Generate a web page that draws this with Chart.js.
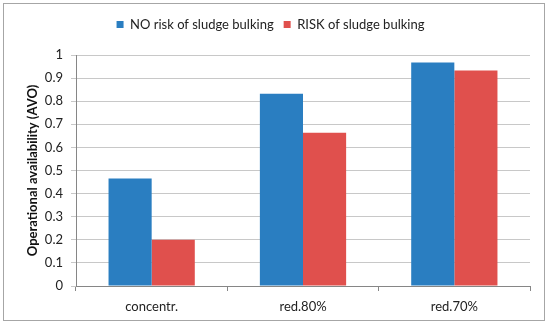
<!DOCTYPE html>
<html>
<head>
<meta charset="utf-8">
<script src="https://cdn.jsdelivr.net/npm/chart.js@4"></script>
<style>
    html, body { margin: 0; padding: 0; background: #fff; }
    #wrap { width: 550px; height: 326px; position: relative; }
</style>
</head>
<body>
<div id="wrap"><canvas id="chart"></canvas></div>
<script>
const categories = ['concentr.', 'red.80%', 'red.70%'];
const noRisk = [0.465, 0.832, 0.968];
const risk = [0.2, 0.663, 0.933];
const seriesNames = ['NO risk of sludge bulking', 'RISK of sludge bulking'];
const yTicks = [0, 0.1, 0.2, 0.3, 0.4, 0.5, 0.6, 0.7, 0.8, 0.9, 1];

const FONT = 'Lato, "Open Sans", sans-serif';

// outer frame like the spreadsheet chart border
const frame = {
    id: 'frame',
    afterInit(chart) {
        // extra room between legend and plot
        const lg = chart.legend;
        const fit = lg.fit;
        lg.fit = function () { fit.call(this); this.height += 14; };
    },
    beforeDraw(chart) {
        const ctx = chart.ctx;
        ctx.save();
        ctx.fillStyle = '#fff';
        ctx.fillRect(0, 0, chart.width, chart.height);
        ctx.strokeStyle = '#a6a6a6';
        ctx.lineWidth = 1;
        ctx.strokeRect(3.5, 3.5, 541, 317);
        ctx.restore();
    }
};

new Chart(document.getElementById('chart'), {
    type: 'bar',
    data: {
        labels: categories,
        datasets: [
            { label: seriesNames[0], data: noRisk, backgroundColor: '#2a7ec1' },
            { label: seriesNames[1], data: risk, backgroundColor: '#e0504d' },
        ]
    },
    options: {
        responsive: true,
        maintainAspectRatio: false,
        animation: false,
        devicePixelRatio: 1,
        categoryPercentage: 0.57,
        barPercentage: 1,
        layout: { padding: { left: 11, right: 20, top: 8, bottom: 8 } },
        plugins: {
            tooltip: { enabled: false },
            legend: {
                position: 'top',
                labels: {
                    boxWidth: 7,
                    boxHeight: 7,
                    padding: 10,
                    color: '#222',
                    font: { family: FONT, size: 13 },
                }
            }
        },
        scales: {
            x: {
                offset: true,
                grid: { display: true, drawOnChartArea: false, offset: true, tickLength: 5, color: '#868686' },
                border: { color: '#868686' },
                ticks: { color: '#222', font: { family: FONT, size: 13 }, padding: 8 },
                afterFit(scale) { scale.height = 32; }
            },
            y: {
                min: 0,
                max: 1,
                afterBuildTicks(scale) { scale.ticks = yTicks.map(v => ({ value: v })); },
                grid: { color: '#c8c8c8', tickLength: 5 },
                border: { color: '#868686' },
                ticks: {
                    color: '#222',
                    font: { family: FONT, size: 13 },
                    padding: 8,
                    callback: v => String(v)
                },
                title: {
                    display: true,
                    text: 'Operational availability (AVO)',
                    color: '#111',
                    font: { family: FONT, size: 13, weight: 'bold' },
                    padding: { top: 14, bottom: 0 }
                },
                afterFit(scale) { scale.width = 65; }
            }
        }
    },
    plugins: [frame]
});
</script>
</body>
</html>
